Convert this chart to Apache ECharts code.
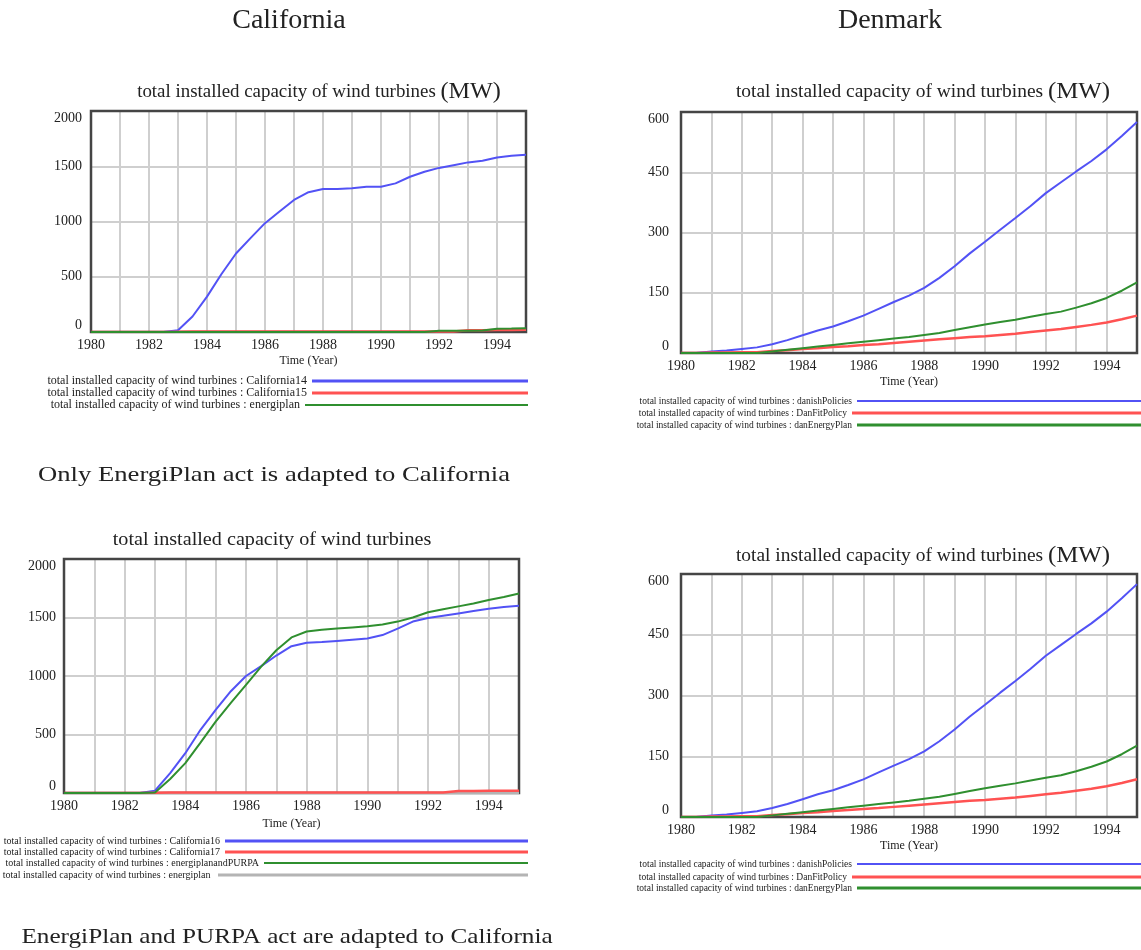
<!DOCTYPE html>
<html>
<head>
<meta charset="utf-8">
<script src="https://cdn.jsdelivr.net/npm/echarts@6/dist/echarts.min.js"></script>
<style>
html,body{margin:0;padding:0;background:#fff;}
#c{width:1141px;height:950px;}
</style>
</head>
<body>
<div id="c"></div>
<script>
// ---- DATA ----
const years = [1980,1980.5,1981,1981.5,1982,1982.5,1983,1983.5,1984,1984.5,1985,1985.5,1986,1986.5,1987,1987.5,1988,1988.5,1989,1989.5,1990,1990.5,1991,1991.5,1992,1992.5,1993,1993.5,1994,1994.5,1995];
const xTickLabels = ['1980','1982','1984','1986','1988','1990','1992','1994'];

// California, only EnergiPlan adapted
const california14 = [0,0,0,0,0,0,15,140,320,525,710,850,985,1090,1195,1265,1295,1295,1300,1315,1315,1345,1405,1450,1485,1510,1535,1550,1580,1595,1605];
const california15 = [0,0,0,0,0,0,3,5,5,5,5,5,5,5,5,5,5,5,5,5,5,5,5,5,5,5,15,15,18,18,20];
const energiplanCA = [0,0,0,0,0,0,0,0,0,0,0,0,0,0,0,0,0,0,0,0,0,0,0,0,12,12,12,14,30,32,35];

// California, EnergiPlan and PURPA adapted
const california16 = [0,0,0,0,0,0,20,170,340,540,710,870,1000,1085,1175,1255,1285,1290,1300,1310,1320,1350,1405,1465,1495,1515,1535,1555,1575,1590,1600];
const california17 = [0,0,0,0,0,0,3,5,5,5,5,5,5,5,5,5,5,5,5,5,5,5,5,5,5,5,18,18,20,20,20];
const energiplanPURPA = [0,0,0,0,0,0,5,120,255,430,610,770,925,1080,1220,1330,1380,1395,1405,1415,1425,1440,1465,1500,1545,1570,1595,1620,1650,1675,1705];
const energiplanOnly = [0,0,0,0,0,0,0,0,0,0,0,0,0,0,0,0,0,0,0,0,0,0,0,0,0,0,0,0,0,0,0];

// Denmark
const danishPolicies = [0,0,4,6,10,14,22,32,44,56,66,79,93,110,127,143,162,187,216,248,277,307,336,366,398,425,452,478,507,540,575];
const danFitPolicy = [0,0,1,1,2,2,5,7,10,12,15,17,20,22,25,28,31,34,37,40,42,45,48,52,56,60,65,70,76,84,93];
const danEnergyPlan = [0,0,0,0,0,0,4,8,12,16,20,24,28,32,36,40,45,50,57,64,71,77,83,90,97,103,113,124,137,155,176];

// names
const P = 'total installed capacity of wind turbines : ';
const N = {
  c14: P + 'California14', c15: P + 'California15', ep: P + 'energiplan',
  c16: P + 'California16', c17: P + 'California17', epp: P + 'energiplanandPURPA', ep2: P + 'energiplan ',
  dk1: P + 'danishPolicies', dk2: P + 'DanFitPolicy', dk3: P + 'danEnergyPlan'
};

// ---- CHART ----
const F = "'Liberation Serif','DejaVu Serif','Times New Roman',serif";
const TXT = '#222';
const BLUE = '#5252f5', RED = '#ff5252', GREEN = '#2f8f2f', GREY = '#b4b4b4';
const pts = arr => years.map((t, i) => [t, arr[i]]);

const grids = [
  {left: 91, top: 111, width: 435, height: 221},
  {left: 681, top: 112, width: 456, height: 241},
  {left: 64, top: 559, width: 455, height: 234},
  {left: 681, top: 574, width: 456, height: 243}
].map(g => Object.assign(g, {show: true, z: 1, borderColor: '#454545', borderWidth: 2.5, backgroundColor: 'transparent', containLabel: false}));

function xa(gi, gap) {
  return {
    type: 'value', gridIndex: gi, min: 1980, max: 1995, interval: 1,
    axisLine: {show: false}, axisTick: {show: false},
    splitLine: {show: true, lineStyle: {color: '#cfcfcf', width: 2}},
    axisLabel: {
      formatter: v => (xTickLabels.indexOf(String(v)) >= 0 ? String(v) : ''),
      fontFamily: F, fontSize: 14, color: TXT, margin: 6
    },
    name: 'Time (Year)', nameLocation: 'middle', nameGap: gap,
    nameTextStyle: {fontFamily: F, fontSize: 12, color: TXT}
  };
}
function ya(gi, max, interval, margin) {
  return {
    type: 'value', gridIndex: gi, min: 0, max: max, interval: interval,
    axisLine: {show: false}, axisTick: {show: false},
    splitLine: {show: true, lineStyle: {color: '#cfcfcf', width: 2}},
    axisLabel: {
      formatter: v => String(v),
      fontFamily: F, fontSize: 14, color: TXT, margin: margin,
      verticalAlignMaxLabel: 'top', verticalAlignMinLabel: 'bottom'
    }
  };
}

function ser(name, data, gi, color, width) {
  return {
    type: 'line', name: name, data: pts(data), xAxisIndex: gi, yAxisIndex: gi,
    showSymbol: false, symbol: 'none', color: color, smooth: false,
    lineStyle: {color: color, width: width}, animation: false
  };
}

function lg(name, lineStart, lineEnd, y, h, fs) {
  return {
    data: [name], right: 1141 - lineEnd, top: y - 6, itemWidth: lineEnd - lineStart, itemHeight: h,
    icon: 'rect', align: 'right', orient: 'horizontal', selectedMode: false, padding: 0, itemGap: 0,
    textStyle: {fontFamily: F, fontSize: fs, color: TXT}
  };
}

function txt(x, y, text, size, sx) {
  return {type: 'text', x: x, y: y, scaleX: sx || 1, silent: true,
    style: {text: text, fontFamily: F, fontSize: size, fill: TXT, align: 'center', verticalAlign: 'middle'}};
}
function ttl(x, y, withMW, sx) {
  return {type: 'text', x: x, y: y, scaleX: sx, silent: true,
    style: {
      text: withMW ? '{a|total installed capacity of wind turbines }{b|(MW)}' : '{a|total installed capacity of wind turbines}',
      rich: {a: {fontFamily: F, fontSize: 18, fill: TXT}, b: {fontFamily: F, fontSize: 23, fill: TXT}},
      align: 'center', verticalAlign: 'middle'
    }};
}

const option = {
  animation: false,
  backgroundColor: '#fff',
  grid: grids,
  xAxis: [xa(0, 23), xa(1, 23), xa(2, 25), xa(3, 23)],
  yAxis: [ya(0, 2000, 500, 9), ya(1, 600, 150, 12), ya(2, 2000, 500, 8), ya(3, 600, 150, 12)],
  series: [
    ser(N.c14, california14, 0, BLUE, 2),
    ser(N.c15, california15, 0, RED, 2.5),
    ser(N.ep, energiplanCA, 0, GREEN, 2),

    ser(N.dk1, danishPolicies, 1, BLUE, 2),
    ser(N.dk2, danFitPolicy, 1, RED, 2.5),
    ser(N.dk3, danEnergyPlan, 1, GREEN, 2),

    ser(N.ep2, energiplanOnly, 2, GREY, 2),
    ser(N.c16, california16, 2, BLUE, 2),
    ser(N.c17, california17, 2, RED, 2.5),
    ser(N.epp, energiplanPURPA, 2, GREEN, 2),

    ser(N.dk1, danishPolicies, 3, BLUE, 2),
    ser(N.dk2, danFitPolicy, 3, RED, 2.5),
    ser(N.dk3, danEnergyPlan, 3, GREEN, 2)
  ],
  legend: [
    lg(N.c14, 312, 528, 381, 3, 12),
    lg(N.c15, 312, 528, 393, 3, 12),
    lg(N.ep, 305, 528, 405, 2, 12),

    lg(N.dk1, 857, 1141, 402, 2, 9.5),
    lg(N.dk2, 852, 1141, 414, 3, 9.5),
    lg(N.dk3, 857, 1141, 426, 3, 9.5),

    lg(N.c16, 225, 528, 842, 3, 10),
    lg(N.c17, 225, 528, 853, 3, 10),
    lg(N.epp, 264, 528, 864, 2, 10),
    lg(N.ep2, 218, 528, 876, 3, 10),

    lg(N.dk1, 857, 1141, 865, 2, 9.5),
    lg(N.dk2, 852, 1141, 878, 3, 9.5),
    lg(N.dk3, 857, 1141, 889, 3, 9.5)
  ],
  graphic: [
    txt(289, 21, 'California', 28),
    txt(890, 21, 'Denmark', 28),
    ttl(319, 92, true, 1.05),
    ttl(923, 92, true, 1.08),
    ttl(272, 540, false, 1.12),
    ttl(923, 556, true, 1.08),
    txt(274, 475, 'Only EnergiPlan act is adapted to California', 21, 1.27),
    txt(287, 937, 'EnergiPlan and PURPA act are adapted to California', 21, 1.2)
  ]
};

const chart = echarts.init(document.getElementById('c'), null, {renderer: 'canvas'});
chart.setOption(option);
</script>
</body>
</html>
